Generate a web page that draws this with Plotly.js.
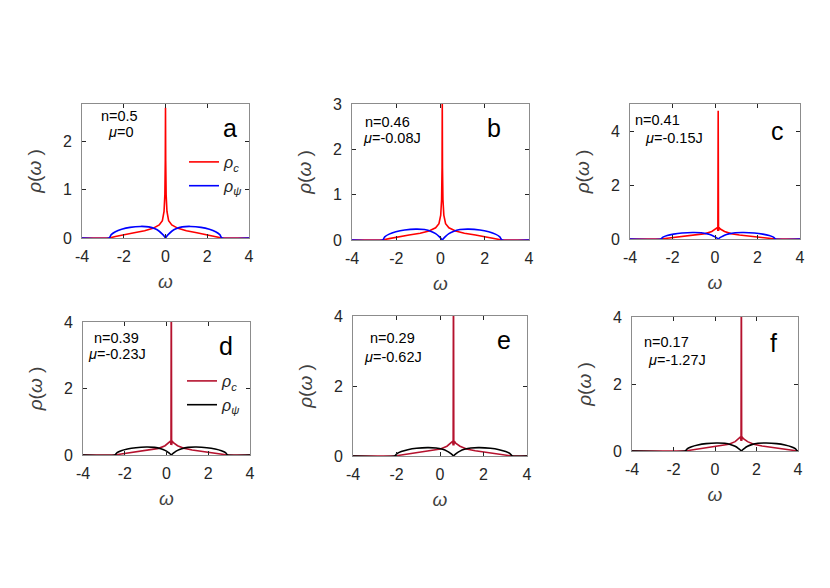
<!DOCTYPE html>
<html>
<head>
<meta charset="utf-8">
<script src="https://cdn.plot.ly/plotly-3.0.1.min.js"></script>
<style>html,body{margin:0;padding:0;background:#fff;}#chart{width:830px;height:588px;}</style>
</head>
<body>
<div id="chart"></div>
<script>
// ---------- data ----------
// rho_c : panels a, b (no tent)
var wC_a = [-4, -2.7, -2.4, -2.0, -1.5, -1.0, -0.6, -0.3, -0.15, -0.07, -0.03, -0.01, 0, 0.01, 0.03, 0.07, 0.15, 0.3, 0.6, 1.0, 1.5, 2.0, 2.4, 2.7, 4];
var rhoC_a = [0, 0, 0.03, 0.07, 0.11, 0.15, 0.2, 0.27, 0.36, 0.55, 0.9, 1.6, 2.7, 1.6, 0.9, 0.55, 0.36, 0.27, 0.2, 0.15, 0.11, 0.07, 0.03, 0, 0];
var wC_b = [-4, -2.62, -2.32, -1.92, -1.42, -0.92, -0.52, -0.22, -0.07, 0.01, 0.05, 0.07, 0.08, 0.09, 0.11, 0.15, 0.23, 0.38, 0.68, 1.08, 1.58, 2.08, 2.48, 2.78, 4];
var rhoC_b = [0, 0, 0.03, 0.07, 0.11, 0.15, 0.2, 0.27, 0.36, 0.55, 0.9, 1.6, 3.1, 1.6, 0.9, 0.55, 0.36, 0.27, 0.2, 0.15, 0.11, 0.07, 0.03, 0, 0];
// rho_c : panels c-f (tent around the spike)
var wC_c = [-4, -2.55, -2.25, -1.85, -1.35, -0.85, -0.45, -0.15, 0.05, 0.11, 0.135, 0.15, 0.165, 0.19, 0.25, 0.45, 0.75, 1.15, 1.65, 2.15, 2.55, 2.85, 4];
var rhoC_c = [0, 0, 0.03, 0.07, 0.11, 0.15, 0.2, 0.28, 0.37, 0.42, 0.3, 4.75, 0.3, 0.42, 0.37, 0.28, 0.2, 0.15, 0.11, 0.07, 0.03, 0, 0];
var wC_d = [-4, -2.47, -2.17, -1.77, -1.27, -0.77, -0.37, -0.07, 0.13, 0.19, 0.215, 0.23, 0.245, 0.27, 0.33, 0.53, 0.83, 1.23, 1.73, 2.23, 2.63, 2.93, 4];
var rhoC_d = [0, 0, 0.03, 0.07, 0.11, 0.15, 0.2, 0.28, 0.37, 0.42, 0.3, 6, 0.3, 0.42, 0.37, 0.28, 0.2, 0.15, 0.11, 0.07, 0.03, 0, 0];
var wC_e = [-4, -2.08, -1.78, -1.38, -0.88, -0.38, 0.02, 0.32, 0.52, 0.58, 0.605, 0.62, 0.635, 0.66, 0.72, 0.92, 1.22, 1.62, 2.12, 2.62, 3.02, 3.32, 4];
var rhoC_e = [0, 0, 0.03, 0.07, 0.11, 0.15, 0.2, 0.28, 0.37, 0.42, 0.3, 6, 0.3, 0.42, 0.37, 0.28, 0.2, 0.15, 0.11, 0.07, 0.03, 0, 0];
var wC_f = [-4, -1.43, -1.13, -0.73, -0.23, 0.27, 0.67, 0.97, 1.17, 1.23, 1.255, 1.27, 1.285, 1.31, 1.37, 1.57, 1.87, 2.27, 2.77, 3.27, 3.67, 3.97, 4];
var rhoC_f = [0, 0, 0.03, 0.07, 0.11, 0.15, 0.2, 0.28, 0.37, 0.42, 0.3, 6, 0.3, 0.42, 0.37, 0.28, 0.2, 0.15, 0.11, 0.07, 0.03, 0, 0];
// rho_psi
var rhoPsi = [0, 0, 0.07, 0.13, 0.18, 0.22, 0.24, 0.23, 0.19, 0.14, 0.08, 0.03, 0, 0.03, 0.08, 0.14, 0.19, 0.23, 0.24, 0.22, 0.18, 0.13, 0.07, 0, 0];
var wP_a = [-4, -2.7, -2.6, -2.4, -2.1, -1.7, -1.2, -0.8, -0.5, -0.3, -0.15, -0.05, 0, 0.05, 0.15, 0.3, 0.5, 0.8, 1.2, 1.7, 2.1, 2.4, 2.6, 2.7, 4];
var wP_b = [-4, -2.62, -2.52, -2.32, -2.02, -1.62, -1.12, -0.72, -0.42, -0.22, -0.07, 0.03, 0.08, 0.13, 0.23, 0.38, 0.58, 0.88, 1.28, 1.78, 2.18, 2.48, 2.68, 2.78, 4];
var wP_c = [-4, -2.55, -2.45, -2.25, -1.95, -1.55, -1.05, -0.65, -0.35, -0.15, 0, 0.1, 0.15, 0.2, 0.3, 0.45, 0.65, 0.95, 1.35, 1.85, 2.25, 2.55, 2.75, 2.85, 4];
var wP_d = [-4, -2.47, -2.37, -2.17, -1.87, -1.47, -0.97, -0.57, -0.27, -0.07, 0.08, 0.18, 0.23, 0.28, 0.38, 0.53, 0.73, 1.03, 1.43, 1.93, 2.33, 2.63, 2.83, 2.93, 4];
var wP_e = [-4, -2.08, -1.98, -1.78, -1.48, -1.08, -0.58, -0.18, 0.12, 0.32, 0.47, 0.57, 0.62, 0.67, 0.77, 0.92, 1.12, 1.42, 1.82, 2.32, 2.72, 3.02, 3.22, 3.32, 4];
var wP_f = [-4, -1.43, -1.33, -1.13, -0.83, -0.43, 0.07, 0.47, 0.77, 0.97, 1.12, 1.22, 1.27, 1.32, 1.42, 1.57, 1.77, 2.07, 2.47, 2.97, 3.37, 3.67, 3.87, 3.97, 4];

var panelLetters = ['a', 'b', 'c', 'd', 'e', 'f'];
var fillings = ['n=0.5', 'n=0.46', 'n=0.41', 'n=0.39', 'n=0.29', 'n=0.17'];
var mus = ['<i>μ</i>=0', '<i>μ</i>=-0.08J', '<i>μ</i>=-0.15J', '<i>μ</i>=-0.23J', '<i>μ</i>=-0.62J', '<i>μ</i>=-1.27J'];
var yMax = [2.78, 3, 5, 4, 4, 4];
var yTicks = [[0, 1, 2], [0, 1, 2, 3], [0, 2, 4], [0, 2, 4], [0, 2, 4], [0, 2, 4]];
var yTickText = [['0', '1', '2'], ['0', '1', '2', '3'], ['0', '2', '4'], ['0', '2', '4'], ['0', '2', '4'], ['0', '2', '4']];
var xTicks = [-4, -2, 0, 2, 4];
var xTickText = ['-4', '-2', '0', '2', '4'];

// ---------- layout geometry ----------
var W = 830, H = 588;
var boxes = [ // [left, right, top, bottom] in px
  [82, 249, 104, 238], [352, 529, 104, 240], [630, 800, 104, 239],
  [83, 250, 322, 455], [353, 527, 316, 456], [632, 798, 317, 451]
];
var textPos = [ // n label, mu label, letter  (px centers)
  [[119, 116], [121, 132], [230, 128]],
  [[387, 122], [392, 138], [494, 128]],
  [[657, 120], [674, 138], [777, 131]],
  [[116, 338], [117, 354], [226, 346]],
  [[392, 338], [393, 357], [504, 340]],
  [[666, 342], [677, 360], [773, 343]]
];

var wC = [wC_a, wC_b, wC_c, wC_d, wC_e, wC_f];
var rC = [rhoC_a, rhoC_b, rhoC_c, rhoC_d, rhoC_e, rhoC_f];
var wP = [wP_a, wP_b, wP_c, wP_d, wP_e, wP_f];

var cRed = ['#ff0000', '#ff0000', '#ff0000', '#b5122e', '#b5122e', '#b5122e'];
var cPsi = ['#0000ff', '#0000ff', '#0000ff', '#000000', '#000000', '#000000'];

var traces = [];
var layout = {
  width: W, height: H,
  margin: {l: 0, r: 0, t: 0, b: 0},
  paper_bgcolor: '#ffffff', plot_bgcolor: '#ffffff',
  font: {family: 'Liberation Sans, Arial, sans-serif', color: '#262626'},
  showlegend: true,
  legend: {x: 184 / W, y: 1 - 145 / H, xanchor: 'left', yanchor: 'top', bgcolor: 'rgba(0,0,0,0)',
           font: {size: 16, color: '#262626'}, tracegroupgap: 0},
  legend2: {x: 182 / W, y: 1 - 364 / H, xanchor: 'left', yanchor: 'top', bgcolor: 'rgba(0,0,0,0)',
           font: {size: 16, color: '#262626'}, tracegroupgap: 0},
  annotations: []
};

for (var i = 0; i < 6; i++) {
  var s = i === 0 ? '' : String(i + 1);
  var b = boxes[i];
  var ax = {
    domain: [b[0] / W, b[1] / W], range: [-4, 4], tickvals: xTicks, ticktext: xTickText,
    ticks: 'inside', ticklen: 4, tickcolor: '#262626', showline: true, linecolor: '#8c8c8c', linewidth: 1,
    mirror: 'allticks', showgrid: false, zeroline: false,
    tickfont: {size: 16, color: '#262626'}, ticklabelstandoff: 4,
    anchor: 'y' + s,
    title: {text: '<i>ω</i>', font: {size: 19, color: '#404040'}, standoff: 10}
  };
  var ay = {
    domain: [1 - b[3] / H, 1 - b[2] / H], range: [0, yMax[i]], tickvals: yTicks[i], ticktext: yTickText[i],
    ticks: 'inside', ticklen: 4, tickcolor: '#262626', showline: true, linecolor: '#8c8c8c', linewidth: 1,
    mirror: 'allticks', showgrid: false, zeroline: false,
    tickfont: {size: 16, color: '#262626'}, ticklabelstandoff: 6,
    anchor: 'x' + s,
    title: {text: '<i>ρ</i>(<i>ω</i> )', font: {size: 19, color: '#404040'}, standoff: 16}
  };
  layout['xaxis' + s] = ax;
  layout['yaxis' + s] = ay;

  var leg = i < 3 ? 'legend' : 'legend2';
  var showLeg = (i === 0 || i === 3);
  traces.push({
    x: wC[i], y: rC[i], xaxis: 'x' + s, yaxis: 'y' + s, type: 'scatter', mode: 'lines',
    line: {color: cRed[i], width: 1.6}, name: '<i>ρ<sub>c</sub></i>', legend: leg, showlegend: showLeg,
    hoverinfo: 'skip'
  });
  traces.push({
    x: wP[i], y: rhoPsi, xaxis: 'x' + s, yaxis: 'y' + s, type: 'scatter', mode: 'lines',
    line: {color: cPsi[i], width: 1.6, shape: 'spline', smoothing: 0.6}, name: '<i>ρ<sub>ψ</sub></i>', legend: leg, showlegend: showLeg,
    hoverinfo: 'skip'
  });

  var tp = textPos[i];
  layout.annotations.push({xref: 'paper', yref: 'paper', x: tp[0][0] / W, y: 1 - tp[0][1] / H, text: fillings[i],
    showarrow: false, xanchor: 'center', yanchor: 'middle', font: {size: 14.5, color: '#000'}});
  layout.annotations.push({xref: 'paper', yref: 'paper', x: tp[1][0] / W, y: 1 - tp[1][1] / H, text: mus[i],
    showarrow: false, xanchor: 'center', yanchor: 'middle', font: {size: 14.5, color: '#000'}});
  layout.annotations.push({xref: 'paper', yref: 'paper', x: tp[2][0] / W, y: 1 - tp[2][1] / H, text: panelLetters[i],
    showarrow: false, xanchor: 'center', yanchor: 'middle', font: {size: 25, color: '#000'}});
}

Plotly.newPlot('chart', traces, layout, {displayModeBar: false, staticPlot: true});
</script>
</body>
</html>
